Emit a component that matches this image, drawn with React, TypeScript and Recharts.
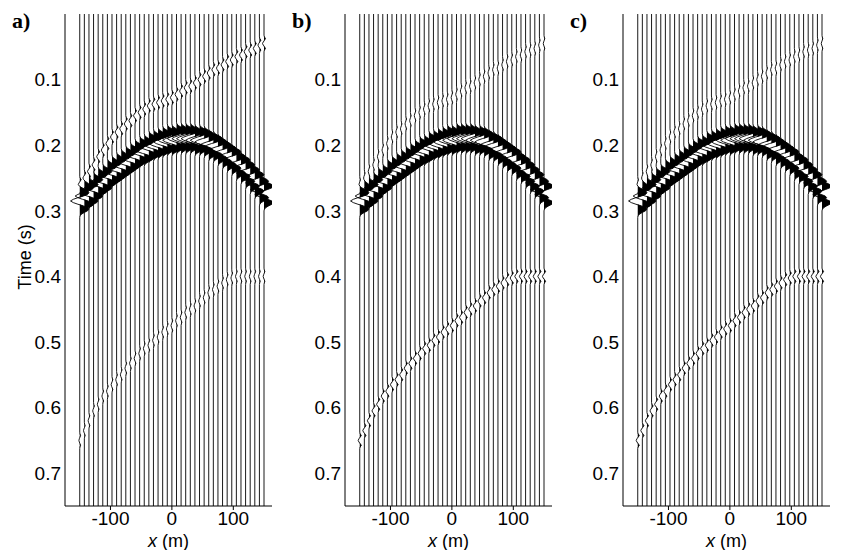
import React from "react";
import { ComposedChart, Scatter, XAxis, YAxis } from "recharts";

const tracePositions = [-150,-142.5,-135,-127.5,-120,-112.5,-105,-97.5,-90,-82.5,-75,-67.5,-60,-52.5,-45,-37.5,-30,-22.5,-15,-7.5,0,7.5,15,22.5,30,37.5,45,52.5,60,67.5,75,82.5,90,97.5,105,112.5,120,127.5,135,142.5,150];
const hyperbolaTimes = [.2851,.2781,.2714,.2647,.2583,.2521,.2460,.2401,.2345,.2292,.2241,.2192,.2147,.2105,.2066,.2031,.2000,.1973,.1950,.1931,.1916,.1906,.1901,.1900,.1906,.1918,.1935,.1960,.1991,.2027,.2069,.2118,.2172,.2230,.2295,.2362,.2433,.2508,.2586,.2667,.2750];
const upperEventTimes = [.260,.250,.239,.229,.218,.208,.197,.187,.180,.174,.168,.162,.156,.150,.145,.141,.138,.135,.132,.130,.127,.122,.118,.113,.109,.104,.100,.095,.091,.086,.082,.077,.073,.069,.066,.062,.058,.055,.052,.048,.045];
const lowerEventTimes = [.650,.635,.620,.606,.594,.582,.574,.566,.558,.550,.541,.533,.525,.518,.510,.504,.498,.492,.486,.480,.474,.468,.462,.456,.450,.444,.438,.432,.426,.420,.415,.410,.405,.402,.400,.400,.400,.400,.400,.400,.400];
const wavelet = [0,.05,.2,.5,.85,1,.85,.4,-.2,-.7,-1,-.7,-.2,.4,.85,1,.85,.5,.2,.05,0];
const weakWavelet = [0,.3,1,.3,-.5,-1,-.5,.3,1,.3,0];
const sampleStep = 0.0025;
const sampleCount = 301;
const panelLabels = ["a)", "b)", "c)"];
const hyperAmps = [1, 1, 1];
const upperAmps = [0.16, 0.08, 0.08];
const lowerAmps = [0.09, 0.17, 0.17];
const yTicks = [0.1, 0.2, 0.3, 0.4, 0.5, 0.6, 0.7];
const xTicks = [-100, 0, 100];

const AMP_M = 15;
const FONT = "Liberation Sans, Arial, sans-serif";

function buildTrace(i: number, p: number) {
  const vals = new Array(sampleCount).fill(0);
  const add = (t: number, a: number, w: number[]) => {
    const c = Math.round(t / sampleStep);
    const half = (w.length - 1) / 2;
    w.forEach((v, k) => {
      const idx = c - half + k;
      if (idx >= 0 && idx < sampleCount) vals[idx] += a * v;
    });
  };
  add(hyperbolaTimes[i], hyperAmps[p], wavelet);
  add(upperEventTimes[i], upperAmps[p], weakWavelet);
  add(lowerEventTimes[i], lowerAmps[p], weakWavelet);
  const pts: { x: number; t: number }[] = [];
  for (let s = 0; s < sampleCount; s++) {
    const keep = s === 0 || s === sampleCount - 1 || vals[s] !== 0 || (s > 0 && vals[s - 1] !== 0) || (s < sampleCount - 1 && vals[s + 1] !== 0);
    if (keep) pts.push({ x: tracePositions[i] + vals[s] * AMP_M, t: s * sampleStep });
  }
  return pts;
}

const WiggleLine = (props: any) => {
  const pts = props.points || [];
  if (!pts.length) return null;
  const base = pts[0].x;
  const stroke = "M" + pts.map((q: any) => `${q.x},${q.y}`).join("L");
  const fill = "M" + pts.map((q: any) => `${Math.max(q.x, base)},${q.y}`).join("L") + "Z";
  return (
    <g>
      <path d={fill} fill="#000" stroke="none" />
      <path d={stroke} fill="none" stroke="#000" strokeWidth={0.9} />
    </g>
  );
};

const XLabel = (props: any) => {
  const vb = props.viewBox;
  return (
    <text x={vb.x + vb.width / 2} y={vb.y + 41} textAnchor="middle" fontSize={18} fontFamily={FONT} fill="#000">
      <tspan fontStyle="italic">x</tspan> (m)
    </text>
  );
};

const lefts = [0, 280, 558];

function Panel({ p }: { p: number }) {
  return (
    <div style={{ position: "absolute", left: lefts[p], top: 0 }}>
      <ComposedChart width={280} height={550} margin={{ top: 14, right: 8, bottom: 4, left: 15 }}>
        <XAxis dataKey="x" type="number" domain={[-174, 163]} ticks={xTicks} allowDataOverflow tickSize={4} tickMargin={2}
          stroke="#000" tick={{ fill: "#000", fontSize: 19, fontFamily: FONT }} height={40} label={<XLabel />} />
        <XAxis xAxisId="top" orientation="top" type="number" domain={[-174, 163]} tick={false} tickLine={false} height={0} stroke="#000" />
        <YAxis dataKey="t" type="number" domain={[0, 0.75]} reversed ticks={yTicks} allowDataOverflow width={50} tickSize={0} tickMargin={4}
          stroke="#000" tick={{ fill: "#000", fontSize: 19, fontFamily: FONT }} />
        <YAxis yAxisId="r" orientation="right" type="number" domain={[0, 0.75]} tick={false} tickLine={false} width={0} stroke="#000" />
        {tracePositions.map((_, i) => (
          <Scatter key={i} data={buildTrace(i, p)} line={WiggleLine} shape={() => <g />} isAnimationActive={false} />
        ))}
      </ComposedChart>
      <div style={{ position: "absolute", left: 12, top: 8, fontFamily: "Liberation Serif, serif", fontWeight: "bold", fontSize: 22 }}>{panelLabels[p]}</div>
    </div>
  );
}

export default function App() {
  return (
    <div style={{ position: "absolute", left: 0, top: 0, width: 847, height: 550, background: "#fff" }}>
      {[0, 1, 2].map((p) => <Panel key={p} p={p} />)}
      <div style={{ position: "absolute", left: 25, top: 257, transform: "translate(-50%,-50%) rotate(-90deg)", fontFamily: FONT, fontSize: 18, whiteSpace: "nowrap" }}>Time (s)</div>
    </div>
  );
}
